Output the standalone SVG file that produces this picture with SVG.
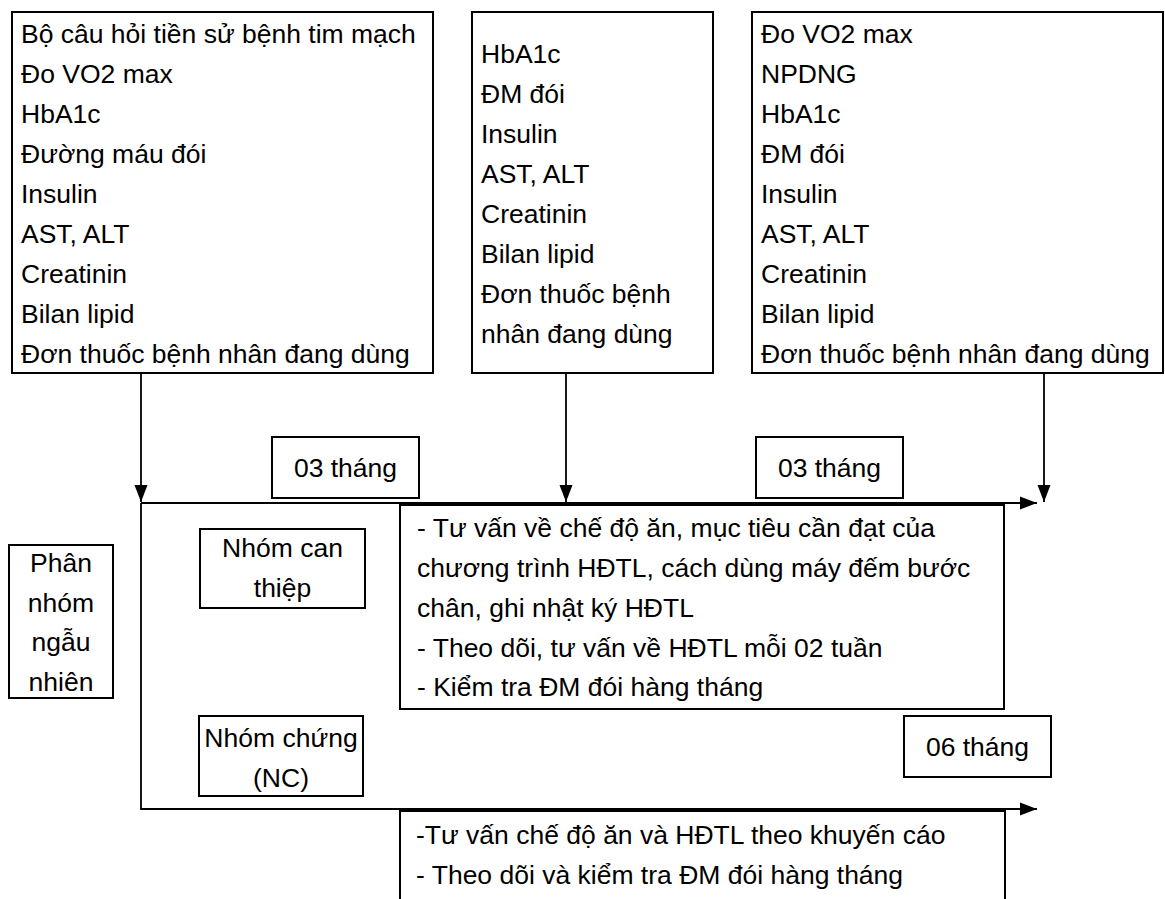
<svg xmlns="http://www.w3.org/2000/svg" width="1165" height="899" viewBox="0 0 1165 899">
<style>
.box{fill:#fff;stroke:#000;stroke-width:2}
.ln{fill:none;stroke:#000;stroke-width:1.8}
text{font-family:"Liberation Sans",Arial,sans-serif;font-size:26.5px;fill:#000}
.c{text-anchor:middle}
</style>
<defs>
<marker id="ah" markerUnits="userSpaceOnUse" markerWidth="18" markerHeight="14" refX="17" refY="7" orient="auto">
<path d="M0,0.5 L17,7 L0,13.5 z" fill="#000"/>
</marker>
</defs>
<rect width="1165" height="899" fill="#fff"/>
<g id="connectors">
<path class="ln" d="M141,373 V502" marker-end="url(#ah)"/>
<path class="ln" d="M566,373 V502" marker-end="url(#ah)"/>
<path class="ln" d="M1044,373 V502" marker-end="url(#ah)"/>
<path class="ln" d="M141,503 H1037" marker-end="url(#ah)"/>
<path class="ln" d="M141,503 V809 H1037" marker-end="url(#ah)"/>
</g>
<g id="box1">
<rect class="box" x="12" y="12" width="421" height="361"/>
<text x="21" y="43">Bộ câu hỏi tiền sử bệnh tim mạch</text>
<text x="21" y="83">Đo VO2 max</text>
<text x="21" y="123">HbA1c</text>
<text x="21" y="163">Đường máu đói</text>
<text x="21" y="203">Insulin</text>
<text x="21" y="243">AST, ALT</text>
<text x="21" y="283">Creatinin</text>
<text x="21" y="323">Bilan lipid</text>
<text x="21" y="363">Đơn thuốc bệnh nhân đang dùng</text>
</g>
<g id="box2">
<rect class="box" x="472" y="12" width="241" height="361"/>
<text x="481" y="63">HbA1c</text>
<text x="481" y="103">ĐM đói</text>
<text x="481" y="143">Insulin</text>
<text x="481" y="183">AST, ALT</text>
<text x="481" y="223">Creatinin</text>
<text x="481" y="263">Bilan lipid</text>
<text x="481" y="303">Đơn thuốc bệnh</text>
<text x="481" y="343">nhân đang dùng</text>
</g>
<g id="box3">
<rect class="box" x="752" y="12" width="411" height="361"/>
<text x="761" y="43">Đo VO2 max</text>
<text x="761" y="83">NPDNG</text>
<text x="761" y="123">HbA1c</text>
<text x="761" y="163">ĐM đói</text>
<text x="761" y="203">Insulin</text>
<text x="761" y="243">AST, ALT</text>
<text x="761" y="283">Creatinin</text>
<text x="761" y="323">Bilan lipid</text>
<text x="761" y="363">Đơn thuốc bệnh nhân đang dùng</text>
</g>
<g id="t03a">
<rect class="box" x="272" y="437" width="147" height="61"/>
<text class="c" x="345.5" y="477">03 tháng</text>
</g>
<g id="t03b">
<rect class="box" x="756" y="437" width="147" height="61"/>
<text class="c" x="829.5" y="477">03 tháng</text>
</g>
<g id="random">
<rect class="box" x="9" y="545" width="104" height="153"/>
<text class="c" x="61" y="572">Phân</text>
<text class="c" x="61" y="612">nhóm</text>
<text class="c" x="61" y="651">ngẫu</text>
<text class="c" x="61" y="691">nhiên</text>
</g>
<g id="intervention">
<rect class="box" x="200" y="529" width="165" height="79"/>
<text class="c" x="282.5" y="557">Nhóm can</text>
<text class="c" x="282.5" y="597">thiệp</text>
</g>
<g id="control">
<rect class="box" x="199" y="716" width="164" height="80"/>
<text class="c" x="281" y="747">Nhóm chứng</text>
<text class="c" x="281" y="787">(NC)</text>
</g>
<g id="intervention-text">
<rect class="box" x="400" y="505" width="604" height="204"/>
<text x="417" y="537">- Tư vấn về chế độ ăn, mục tiêu cần đạt của</text>
<text x="417" y="577">chương trình HĐTL, cách dùng máy đếm bước</text>
<text x="417" y="617">chân, ghi nhật ký HĐTL</text>
<text x="417" y="657">- Theo dõi, tư vấn về HĐTL mỗi 02 tuần</text>
<text x="417" y="696">- Kiểm tra ĐM đói hàng tháng</text>
</g>
<g id="t06">
<rect class="box" x="904" y="716" width="147" height="61"/>
<text class="c" x="977.5" y="756">06 tháng</text>
</g>
<g id="control-text">
<path class="box" d="M400,905 V811 H1005 V905"/>
<text x="416" y="844">-Tư vấn chế độ ăn và HĐTL theo khuyến cáo</text>
<text x="416" y="884">- Theo dõi và kiểm tra ĐM đói hàng tháng</text>
</g>
</svg>
